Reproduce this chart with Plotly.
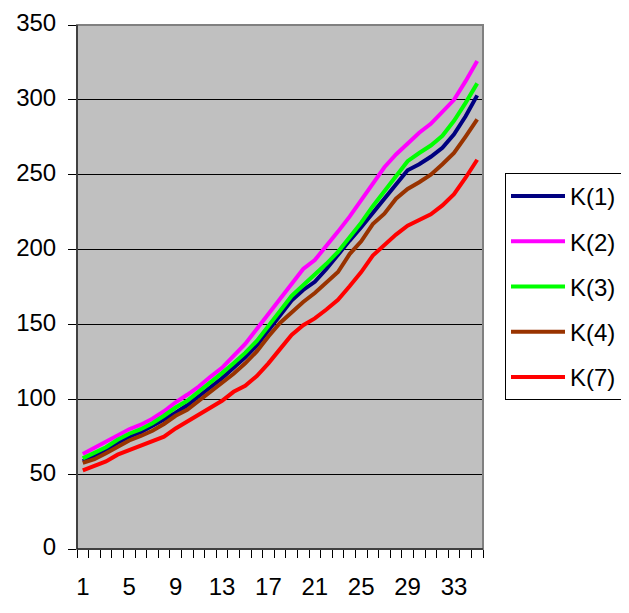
import plotly.graph_objects as go

categories = list(range(1, 36))
tick_labels = [str(v) for v in range(1, 36, 4)]

k1 = [58.5, 62, 66, 71, 75, 78, 82, 86.5, 91, 96, 102, 108, 114, 121, 128, 136, 146, 157, 166, 173,
      178.5, 187, 197, 206, 215, 224.5, 233.5, 244, 253, 257, 262, 268, 277, 289, 303]
k2 = [63.5, 67.5, 71.5, 76, 80, 83, 87, 92, 98, 103, 108.5, 115, 121, 129, 137, 147, 157, 168, 178, 187,
      193, 202, 212, 222, 233, 245, 255, 263.5, 271, 278, 284, 292, 300, 312.5, 326]
k3 = [60.5, 64, 68, 73, 77, 80, 84, 89, 94.5, 99, 105, 111, 117.5, 124, 131, 139, 148.5, 159, 169, 176,
      183, 190.5, 198.5, 208, 218, 229, 239, 248.5, 259, 264.5, 269.5, 276, 286, 298, 311]
k4 = [57.5, 60, 64, 68.5, 72.5, 75.5, 79, 83.5, 89, 93, 99, 105, 111, 117, 124, 132, 142, 151, 158, 165,
      171, 178, 185, 197, 205.5, 217, 224, 234, 240.5, 245, 250, 257, 264.5, 275.5, 287]
k7 = [52.5, 55.5, 58.5, 63, 66, 68.5, 71.5, 75, 80.5, 85, 90, 94.5, 99, 105, 109, 115.5, 124, 133.5, 143, 149.5,
      154, 160, 166.5, 175.5, 185, 196, 203, 210, 216, 219.5, 223.5, 229.5, 237, 248, 260]

series = [("K(1)", k1, "#000080"), ("K(2)", k2, "#FF00FF"), ("K(3)", k3, "#00FF00"),
          ("K(4)", k4, "#993300"), ("K(7)", k7, "#FF0000")]

FONT = "Liberation Sans, Arial, sans-serif"

fig = go.Figure()
for name, vals, col in series:
    fig.add_trace(go.Scatter(x=categories, y=vals, name=name, mode="lines",
                             legendgroup=name,
                             line=dict(color=col, width=4)))

# page body has an 8px default margin; lay out in page coordinates minus 8
OFF = 8
W, H = 629 - OFF, 613 - OFF
L, T = 77 - OFF, 25 - OFF
PR, PB = 483 - OFF, 549 - OFF
R, B = W - PR, H - PB
pw = PR - L
ph = PB - T

def px_x(x):
    return (x - OFF - L) / pw

def px_y(y):
    return (PB - (y - OFF)) / ph

fig.update_layout(
    template="none",
    width=W, height=H,
    margin=dict(l=L, r=R, t=T, b=B, pad=0, autoexpand=False),
    paper_bgcolor="white",
    plot_bgcolor="#C0C0C0",
    font=dict(family=FONT, size=24, color="black"),
    showlegend=True,
    legend=dict(
        x=px_x(505), y=px_y(173), xanchor="left", yanchor="top",
        bordercolor="black", borderwidth=1, bgcolor="white",
        font=dict(family=FONT, size=24, color="black"),
        itemwidth=54, tracegroupgap=11, traceorder="grouped",
    ),
    xaxis=dict(
        automargin=False,
        range=[0.5, 35.5], tickmode="array",
        tickvals=[int(t) for t in tick_labels], ticktext=tick_labels,
        ticks="", showgrid=False, zeroline=False,
        showline=True, linecolor="black", linewidth=1,
        ticklabelstandoff=16,
        minor=dict(ticks="outside", tickmode="linear", tick0=0.5, dtick=1,
                   ticklen=8, tickcolor="black", tickwidth=1, showgrid=False),
    ),
    yaxis=dict(
        automargin=False,
        range=[0, 350], tickmode="linear", tick0=0, dtick=50,
        ticks="outside", ticklen=8, tickcolor="black", tickwidth=1,
        showgrid=True, gridcolor="black", gridwidth=1, zeroline=False,
        showline=True, linecolor="black", linewidth=1,
        ticklabelstandoff=7, ticklabelshift=-2,
    ),
    shapes=[
        dict(type="rect", xref="paper", yref="paper", x0=0, y0=0, x1=1, y1=1,
             line=dict(color="#808080", width=2), layer="above"),
        dict(type="line", xref="paper", yref="paper", x0=0, y0=0, x1=0, y1=1,
             line=dict(color="black", width=1), layer="above"),
        dict(type="line", xref="paper", yref="paper", x0=0, y0=0, x1=1, y1=0,
             line=dict(color="black", width=1), layer="above"),
        dict(type="line", xref="paper", yref="paper",
             x0=px_x(627.5), y0=px_y(613), x1=px_x(627.5), y1=px_y(0),
             line=dict(color="black", width=2)),
    ],
)

fig.write_html("out.html")
